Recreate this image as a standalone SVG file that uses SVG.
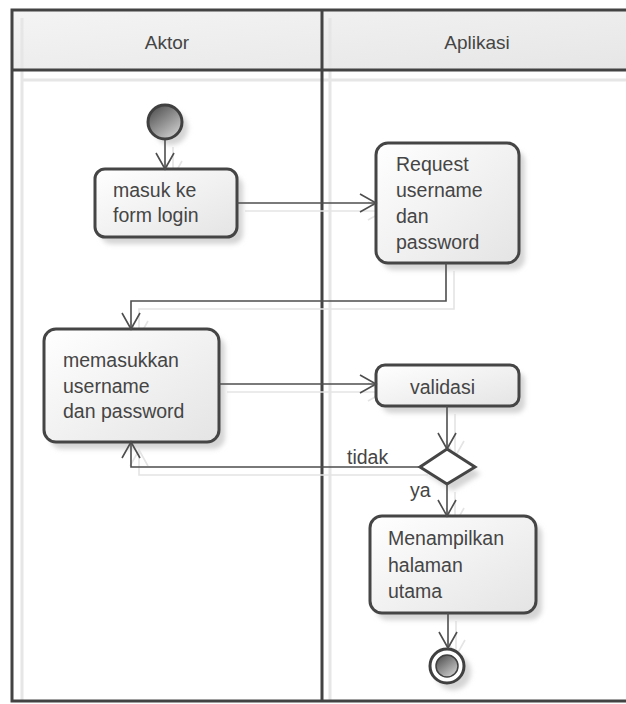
<svg xmlns="http://www.w3.org/2000/svg" xmlns:xlink="http://www.w3.org/1999/xlink" width="626" height="704" viewBox="0 0 626 704">
  <style>
    .frame{fill:none;stroke:#434343;stroke-width:3}
    .fshadow{fill:none;stroke:#e6e6e6;stroke-width:3}
    .node{fill:url(#boxGrad);stroke:#454545;stroke-width:3}
    .shadow{fill:#d4d4d4;filter:url(#blur)}
    .lbl{font-family:"Liberation Sans",Arial,sans-serif;font-size:19.5px;fill:#454545}
    .hdr{font-family:"Liberation Sans",Arial,sans-serif;font-size:19px;fill:#454545;text-anchor:middle}
    .conn{fill:none;stroke:#4e4e4e;stroke-width:1.6;marker-end:url(#arrow)}
    .cshadow{fill:none;stroke:#e4e4e4;stroke-width:1.6;marker-end:url(#arrowS)}
  </style>
  <defs>
    <linearGradient id="boxGrad" x1="0" y1="0" x2="1" y2="1">
      <stop offset="0" stop-color="#ffffff"/>
      <stop offset="1" stop-color="#e4e4e4"/>
    </linearGradient>
    <linearGradient id="hdrGrad" x1="0" y1="0" x2="1" y2="1">
      <stop offset="0" stop-color="#f4f4f4"/>
      <stop offset="1" stop-color="#e6e6e6"/>
    </linearGradient>
    <linearGradient id="dotGrad" x1="0.2" y1="0.1" x2="0.8" y2="0.9">
      <stop offset="0" stop-color="#5a5a5a"/>
      <stop offset="1" stop-color="#c8c8c8"/>
    </linearGradient>
    <filter id="blur" x="-20%" y="-20%" width="140%" height="140%">
      <feGaussianBlur stdDeviation="2.5"/>
    </filter>
    <marker id="arrow" markerUnits="userSpaceOnUse" markerWidth="20" markerHeight="20" viewBox="0 0 20 20" refX="18" refY="10" orient="auto">
      <path d="M2,1 L18,10 L2,19" fill="none" stroke="#4e4e4e" stroke-width="1.6"/>
    </marker>
    <marker id="arrowS" markerUnits="userSpaceOnUse" markerWidth="20" markerHeight="20" viewBox="0 0 20 20" refX="18" refY="10" orient="auto">
      <path d="M2,1 L18,10 L2,19" fill="none" stroke="#e4e4e4" stroke-width="1.6"/>
    </marker>
  </defs>

  <rect x="0" y="0" width="626" height="704" fill="#ffffff"/>

  <g id="swimlanes">
    <rect x="12" y="10" width="620" height="60" fill="url(#hdrGrad)"/>
    <path class="fshadow" d="M22,18 V701 M22,80 H632 M330,18 V701"/>
    <rect class="frame" x="12" y="10" width="620" height="691"/>
    <path class="frame" d="M12,70 H632 M322,10 V701"/>
    <text class="hdr" x="167" y="49">Aktor</text>
    <text class="hdr" x="477" y="49">Aplikasi</text>
  </g>

  <g id="connectors-shadow" transform="translate(8,8)">
    <path class="cshadow" d="M165,139 V169"/>
    <path class="cshadow" d="M237,203 H376"/>
    <path class="cshadow" d="M446,263 V301 H131 V329"/>
    <path class="cshadow" d="M219,384 H376"/>
    <path class="cshadow" d="M447,406 V449"/>
    <path class="cshadow" d="M420,467 H131 V442"/>
    <path class="cshadow" d="M447,484 V516"/>
    <path class="cshadow" d="M448,613 V648"/>
  </g>

  <g id="start">
    <circle cx="171" cy="128" r="17" class="shadow"/>
    <circle cx="165" cy="122" r="17" fill="url(#dotGrad)" stroke="#404040" stroke-width="3"/>
  </g>

  <g id="masuk-form-login">
    <rect class="shadow" x="101" y="176" width="142" height="68" rx="10"/>
    <rect class="node" x="95" y="169" width="142" height="68" rx="10"/>
    <text class="lbl" x="113" y="197">masuk ke</text>
    <text class="lbl" x="113" y="222">form login</text>
  </g>

  <g id="request">
    <rect class="shadow" x="382" y="150" width="143" height="120" rx="12"/>
    <rect class="node" x="376" y="143" width="143" height="120" rx="12"/>
    <text class="lbl" x="396" y="171">Request</text>
    <text class="lbl" x="396" y="197">username</text>
    <text class="lbl" x="396" y="223">dan</text>
    <text class="lbl" x="396" y="249">password</text>
  </g>

  <g id="memasukkan">
    <rect class="shadow" x="50" y="336" width="175" height="113" rx="12"/>
    <rect class="node" x="44" y="329" width="175" height="113" rx="12"/>
    <text class="lbl" x="63" y="367">memasukkan</text>
    <text class="lbl" x="63" y="393">username</text>
    <text class="lbl" x="63" y="418">dan password</text>
  </g>

  <g id="validasi">
    <rect class="shadow" x="382" y="372" width="143" height="41" rx="9"/>
    <rect class="node" x="376" y="365" width="143" height="41" rx="9"/>
    <text class="lbl" x="410" y="394">validasi</text>
  </g>

  <g id="decision">
    <path class="shadow" d="M453,456 L481,474 L453,491 L426,474 Z"/>
    <path d="M447,449 L475,467 L447,484 L420,467 Z" fill="#ffffff" stroke="#454545" stroke-width="3"/>
  </g>

  <g id="menampilkan">
    <rect class="shadow" x="376" y="523" width="166" height="97" rx="12"/>
    <rect class="node" x="370" y="516" width="166" height="97" rx="12"/>
    <text class="lbl" x="388" y="545">Menampilkan</text>
    <text class="lbl" x="388" y="572">halaman</text>
    <text class="lbl" x="388" y="598">utama</text>
  </g>

  <g id="end">
    <circle cx="453" cy="672" r="18" class="shadow"/>
    <circle cx="447" cy="666" r="17" fill="#ffffff" stroke="#404040" stroke-width="3"/>
    <circle cx="447" cy="666" r="11" fill="url(#dotGrad)" stroke="#404040" stroke-width="1.5"/>
  </g>

  <g id="connectors">
    <path class="conn" d="M165,140 V169"/>
    <path class="conn" d="M237,203 H376"/>
    <path class="conn" d="M446,263 V301 H131 V329"/>
    <path class="conn" d="M219,384 H376"/>
    <path class="conn" d="M447,406 V449"/>
    <path class="conn" d="M420,467 H131 V442"/>
    <path class="conn" d="M447,484 V516"/>
    <path class="conn" d="M448,613 V648"/>
  </g>

  <g id="labels">
    <text class="lbl" x="347" y="464">tidak</text>
    <text class="lbl" x="410" y="497">ya</text>
  </g>
</svg>
